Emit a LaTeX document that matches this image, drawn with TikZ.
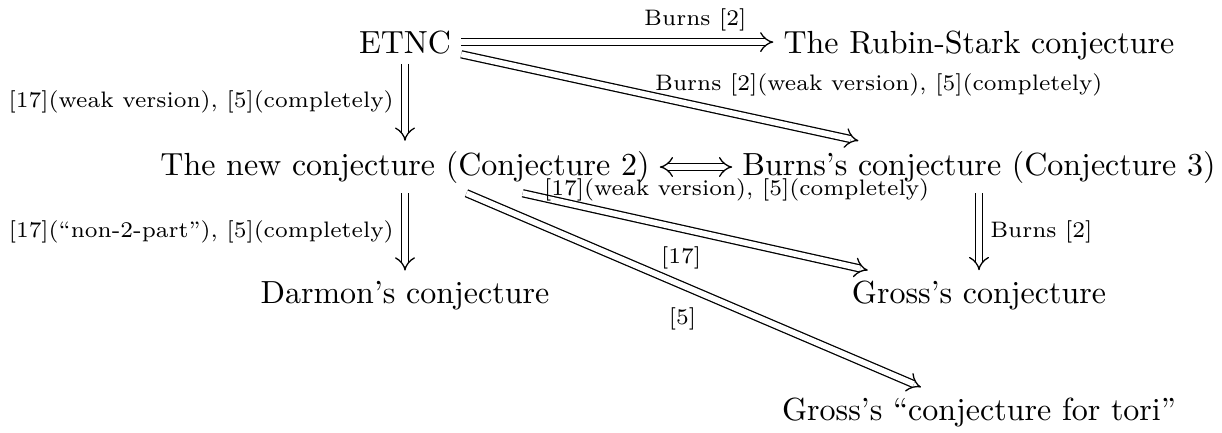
\documentclass[tikz,border=0pt]{standalone}
\usepackage{amsmath,amssymb}
\usepackage{tikz}
\usetikzlibrary{arrows.meta,positioning,calc}

\begin{document}
\begin{tikzpicture}[x=0.3125pt,y=-0.3125pt,
 conj/.style={anchor=base,inner sep=3pt},
 imp/.style={double,double distance=1.8pt,-{Implies}},
 both/.style={double,double distance=1.8pt,{Implies}-{Implies}},
 lbl/.style={font=\scriptsize}]
\useasboundingbox (0,0) rectangle (1222,432);
\node[conj] (etnc) at (405,53) {ETNC};
\node[conj] (rubin) at (979,53) {The Rubin-Stark conjecture};
\node[conj] (new) at (405,175) {The new conjecture (Conjecture 2)};
\node[conj] (burns) at (979,175) {Burns's conjecture (Conjecture 3)};
\node[conj] (darmon) at (405,303) {Darmon's conjecture};
\node[conj] (gross) at (979,303) {Gross's conjecture};
\node[conj] (tori) at (979,420) {Gross's ``conjecture for tori''};
\draw[imp] (etnc.east) -- (etnc.east -| rubin.west) node[lbl,pos=.75,above] {Burns [2]};
\draw[imp] (etnc) -- (burns) node[lbl,pos=.5,above right,xshift=-5pt,yshift=-3pt] {Burns [2](weak version), [5](completely)};
\draw[imp] (etnc) -- (new) node[lbl,midway,left] {[17](weak version), [5](completely)};
\draw[both] (new.east) -- (new.east -| burns.west);
\draw[imp] (new) -- (darmon) node[lbl,midway,left] {[17](``non-2-part''), [5](completely)};
\draw[imp] (burns) -- (gross) node[lbl,midway,right] {Burns [2]};
\draw[imp] (new) -- (gross) node[lbl,pos=.55,below left] {[17]} node[lbl,pos=.62,above=9pt] {[17](weak version), [5](completely)};
\draw[imp] (new) -- (tori) node[lbl,pos=.53,below left] {[5]};
\end{tikzpicture}
\end{document}
